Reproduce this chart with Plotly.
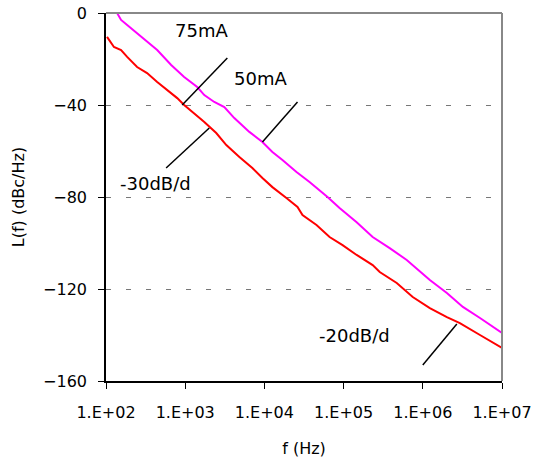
import plotly.graph_objects as go

# 75mA (magenta) trace: frequency (Hz) and phase noise (dBc/Hz)
freq_75 = [138, 155, 185, 247, 330, 443, 665, 970, 1419, 1742, 2328, 3119, 4169, 6457,
           9441, 12620, 16900, 25410, 37150, 49660, 62660, 88920, 146200, 232800,
           381900, 626600, 746400, 1227000, 2014000, 3206000, 5272000, 9441000, 10000000]
noise_75 = [0.0, -3.0, -5.2, -8.7, -12.6, -16.1, -22.6, -27.8, -32.2, -35.7, -38.7, -40.9,
            -45.7, -51.7, -56.1, -60.4, -63.9, -69.1, -73.5, -77.0, -80.0, -84.8, -91.0,
            -97.4, -102.2, -107.4, -109.6, -116.1, -121.7, -127.8, -132.6, -138.7, -139.1]

# 50mA (red) trace
freq_50 = [103, 126, 155, 185, 247, 330, 443, 592, 793, 970, 1300, 1742, 2466, 3304, 4831,
           7047, 9441, 12620, 18970, 26180, 30270, 45500, 66530, 97050, 146200, 232800,
           285800, 468800, 746400, 1227000, 2014000, 2938000, 5272000, 9441000, 10000000]
noise_50 = [-10.4, -14.8, -16.1, -19.1, -23.5, -26.1, -30.0, -33.5, -37.0, -40.0, -43.5,
            -47.4, -52.2, -57.4, -62.6, -67.4, -71.7, -75.7, -80.4, -84.3, -87.8, -92.2,
            -97.4, -100.9, -105.2, -109.6, -112.6, -117.4, -123.5, -128.3, -132.2, -134.8,
            -140.0, -145.2, -145.6]

x_tickvals = [1e2, 1e3, 1e4, 1e5, 1e6, 1e7]
x_ticktext = ["1.E+02", "1.E+03", "1.E+04", "1.E+05", "1.E+06", "1.E+07"]
y_tickvals = [0, -40, -80, -120, -160]

# pointer lines (freq pairs, dB pairs)
pointer_f = [[916, 3404], [9441, 26180], [574, 2014], [1000000, 2690000]]
pointer_db = [[-40.0, -19.6], [-56.1, -38.7], [-67.4, -50.0], [-153.0, -135.2]]

labels = ["75mA", "50mA", "-30dB/d", "-20dB/d"]
label_logf = [3.203, 3.949, 2.620, 5.139]
label_db = [-7.4, -28.3, -74.3, -140.0]

FONT = "DejaVu Sans"

fig = go.Figure()
fig.add_trace(go.Scatter(x=freq_50, y=noise_50, mode="lines",
                         line=dict(color="#FF0000", width=2), hoverinfo="skip"))
fig.add_trace(go.Scatter(x=freq_75, y=noise_75, mode="lines",
                         line=dict(color="#FF00FF", width=2), hoverinfo="skip"))
for fx, dy in zip(pointer_f, pointer_db):
    fig.add_trace(go.Scatter(x=fx, y=dy, mode="lines",
                             line=dict(color="black", width=1.5), hoverinfo="skip"))

for t, lx, ly in zip(labels, label_logf, label_db):
    fig.add_annotation(x=lx, y=ly, text=t, showarrow=False, xref="x", yref="y",
                       font=dict(family=FONT, size=18, color="black"))

# gray top and right frame
fig.add_shape(type="line", xref="paper", yref="paper", x0=0, x1=1, y0=1, y1=1,
              line=dict(color="#888888", width=2))
fig.add_shape(type="line", xref="paper", yref="paper", x0=1, x1=1, y0=0, y1=1,
              line=dict(color="#888888", width=2))

fig.update_layout(
    width=535, height=469,
    margin=dict(l=106, r=33, t=13, b=88),
    paper_bgcolor="white", plot_bgcolor="white",
    showlegend=False,
    font=dict(family=FONT, size=16, color="black"),
    xaxis=dict(type="log", range=[2, 7], tickvals=x_tickvals, ticktext=x_ticktext,
               automargin=False,
               showgrid=False, zeroline=False, showline=True, linecolor="black",
               linewidth=1.5, ticks="outside", ticklen=6, tickcolor="black",
               ticklabelstandoff=10,
               title=dict(text="f (Hz)", font=dict(family=FONT, size=16), standoff=22)),
    yaxis=dict(range=[-160, 0], tickvals=y_tickvals, showgrid=True, automargin=False,
               gridcolor="#777777", griddash="5px,15px", gridwidth=1,
               zeroline=False, showline=True, linecolor="black", linewidth=1.5,
               ticks="outside", ticklen=6, tickcolor="black", ticklabelstandoff=8,
               title=dict(text="L(f) (dBc/Hz)", font=dict(family=FONT, size=16), standoff=14)),
)

fig.write_html("out.html")
